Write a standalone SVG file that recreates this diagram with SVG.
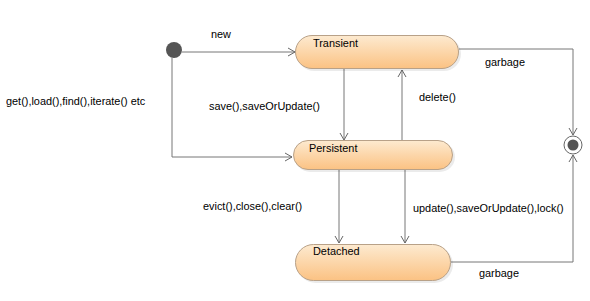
<svg xmlns="http://www.w3.org/2000/svg" width="590" height="301" viewBox="0 0 590 301">
<defs>
<linearGradient id="g" x1="0" y1="0" x2="0" y2="1">
<stop offset="0" stop-color="#fdead0"/>
<stop offset="1" stop-color="#fbc283"/>
</linearGradient>
<marker id="a" markerWidth="10" markerHeight="10" refX="8" refY="5" orient="auto" markerUnits="userSpaceOnUse">
<path d="M1,1 L8,5 L1,9" fill="none" stroke="#666" stroke-width="1"/>
</marker>
</defs>
<style>
.st{fill:url(#g);stroke:#b8a188;stroke-width:1}
.sh{fill:#000;opacity:0.08}
.c{fill:none;stroke:#777;stroke-width:1}
text{font-family:"Liberation Sans",Arial,sans-serif;font-size:10.9px;fill:#000}
</style>
<rect width="590" height="301" fill="#fff"/>
<g id="connectors">
<path class="c" d="M182,52 H295" marker-end="url(#a)"/>
<path class="c" d="M172,58 V157 H292" marker-end="url(#a)"/>
<path class="c" d="M344,69 V140" marker-end="url(#a)"/>
<path class="c" d="M402,140 V70" marker-end="url(#a)"/>
<path class="c" d="M339,170 V243" marker-end="url(#a)"/>
<path class="c" d="M405,170 V243" marker-end="url(#a)"/>
<path class="c" d="M459,49 H573 V135" marker-end="url(#a)"/>
<path class="c" d="M451,262 H573 V155" marker-end="url(#a)"/>
</g>
<g id="initial"><circle cx="174" cy="50" r="8" fill="#555"/></g>
<g id="final"><circle cx="573" cy="145" r="9" fill="#fff" stroke="#666" stroke-width="1"/><circle cx="573" cy="145" r="5.5" fill="#555"/></g>
<g id="transient">
<rect class="sh" x="297" y="37" width="164" height="34" rx="17"/>
<rect class="st" x="295.5" y="35.5" width="163" height="33" rx="16.5"/>
<text x="313" y="47">Transient</text>
</g>
<g id="persistent">
<rect class="sh" x="295" y="142" width="160" height="30" rx="15"/>
<rect class="st" x="293.5" y="140.5" width="159" height="29" rx="14.5"/>
<text x="309" y="152">Persistent</text>
</g>
<g id="detached">
<rect class="sh" x="297" y="246" width="156" height="37" rx="18.5"/>
<rect class="st" x="295.5" y="244.5" width="155" height="36" rx="18"/>
<text x="313" y="255">Detached</text>
</g>
<g id="labels">
<text x="211" y="38">new</text>
<text x="209" y="110">save(),saveOrUpdate()</text>
<text x="419" y="101">delete()</text>
<text x="6" y="105">get(),load(),find(),iterate() etc</text>
<text x="203" y="210">evict(),close(),clear()</text>
<text x="413" y="212">update(),saveOrUpdate(),lock()</text>
<text x="485" y="66">garbage</text>
<text x="479" y="277">garbage</text>
</g>
</svg>
